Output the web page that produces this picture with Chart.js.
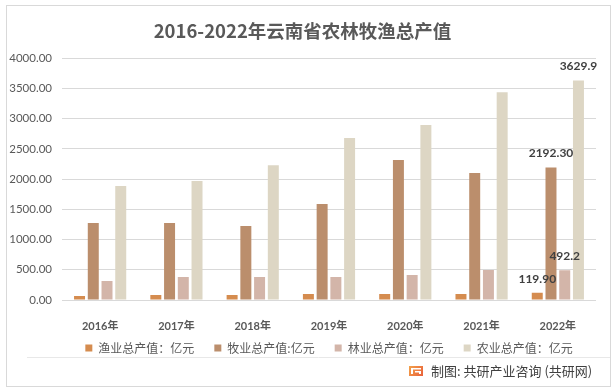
<!DOCTYPE html>
<html>
<head>
<meta charset="utf-8">
<script src="https://cdn.jsdelivr.net/npm/chart.js@4.4.1/dist/chart.umd.min.js"></script>
<style>
  html, body { margin: 0; padding: 0; background: #fff; }
  #wrap { width: 615px; height: 389px; }
</style>
</head>
<body>
<div id="wrap"><canvas id="chart" width="615" height="389"></canvas></div>
<script>
const years = ['2016年', '2017年', '2018年', '2019年', '2020年', '2021年', '2022年'];
const seriesNames = ['渔业总产值：亿元', '牧业总产值:亿元', '林业总产值：亿元', '农业总产值：亿元'];
const fishery = [68, 83, 83, 99, 99, 100, 119.9];
const livestock = [1273, 1272, 1223, 1587, 2314, 2099, 2192.3];
const forestry = [314, 380, 382, 382, 413, 496, 492.2];
const farming = [1884, 1967, 2231, 2678, 2893, 3438, 3629.9];
const lastLabels = ['119.90', '2192.30', '492.2', '3629.9'];
const colors = ['#d58c4f', '#bb8e6c', '#d3b5a9', '#ddd6c4'];
const yTicks = [0, 500, 1000, 1500, 2000, 2500, 3000, 3500, 4000];

const cjk = '"Noto Sans CJK SC", sans-serif';
const num = 'Lato, "Noto Sans CJK SC", sans-serif';

// frame, footer and the labels on the 2022 bars
const decor = {
  id: 'decor',
  afterLayout(chart) {
    // pull the legend row up a little, closer to the year labels
    chart.legend.top -= 8;
    chart.legend.bottom -= 8;
  },
  beforeDraw(chart) {
    const c = chart.ctx;
    c.save();
    c.fillStyle = '#fff';
    c.fillRect(0, 0, chart.width, chart.height);
    c.strokeStyle = '#d9d9d9';
    c.lineWidth = 1;
    c.strokeRect(6.5, 5.5, 604, 381);
    c.strokeStyle = '#e8e8e8';
    c.beginPath();
    c.moveTo(27, 357.5);
    c.lineTo(610, 357.5);
    c.stroke();
    c.restore();
  },
  afterDraw(chart) {
    const c = chart.ctx;
    c.save();
    // logo
    const g = c.createLinearGradient(409, 366, 423, 376);
    g.addColorStop(0, '#f3a24a');
    g.addColorStop(1, '#e9603a');
    c.fillStyle = g;
    c.fillRect(409, 366, 14, 10);
    c.fillStyle = '#fff';
    c.fillRect(411, 368, 10, 1.5);
    c.fillRect(411, 368, 2, 6);
    c.fillRect(415, 371, 6, 1.5);
    c.fillRect(419, 371, 2, 3);
    c.fillStyle = '#404040';
    c.font = '13px ' + cjk;
    c.textBaseline = 'middle';
    c.textAlign = 'left';
    c.fillText('制图: 共研产业咨询 (共研网)', 431, 371);
    c.restore();
  },
  afterDatasetsDraw(chart) {
    const c = chart.ctx;
    c.save();
    c.fillStyle = '#404040';
    c.font = 'bold 12px ' + num;
    c.textAlign = 'center';
    c.textBaseline = 'middle';
    chart.data.datasets.forEach((ds, i) => {
      const bar = chart.getDatasetMeta(i).data[years.length - 1];
      c.fillText(lastLabels[i], bar.x, bar.y - 14);
    });
    c.restore();
  }
};

new Chart(document.getElementById('chart'), {
  type: 'bar',
  data: {
    labels: years,
    datasets: [fishery, livestock, forestry, farming].map((d, i) => ({
      label: seriesNames[i],
      data: d,
      backgroundColor: colors[i],
      borderWidth: 0,
      categoryPercentage: 0.72,
      barPercentage: 0.8
    }))
  },
  options: {
    responsive: false,
    animation: false,
    layout: { padding: { left: 9, right: 19, top: 0, bottom: 17 } },
    plugins: {
      title: {
        display: true,
        text: '2016-2022年云南省农林牧渔总产值',
        color: '#595959',
        font: { family: cjk, size: 18.5, weight: 'bold', lineHeight: 1.2 },
        padding: { top: 20, bottom: 16 }
      },
      legend: {
        position: 'bottom',
        fullSize: false,
        weight: 10,
        labels: {
          boxWidth: 7,
          boxHeight: 7,
          padding: 20,
          color: '#595959',
          font: { family: cjk, size: 12 }
        }
      },
      tooltip: { enabled: false }
    },
    scales: {
      x: {
        grid: { display: false },
        border: { display: false },
        ticks: {
          color: '#595959',
          padding: 12,
          font: { family: num, size: 11, weight: 'bold' }
        },
        afterFit(s) { s.height = 30; }
      },
      y: {
        min: 0,
        max: 4000,
        afterBuildTicks(s) { s.ticks = yTicks.map(v => ({ value: v })); },
        grid: { color: '#d9d9d9', drawTicks: false },
        border: { display: false },
        ticks: {
          color: '#595959',
          padding: 10,
          font: { family: num, size: 11.5 },
          callback: v => v.toFixed(2)
        },
        afterFit(s) { s.width = 53; }
      }
    }
  },
  plugins: [decor]
});
</script>
</body>
</html>
